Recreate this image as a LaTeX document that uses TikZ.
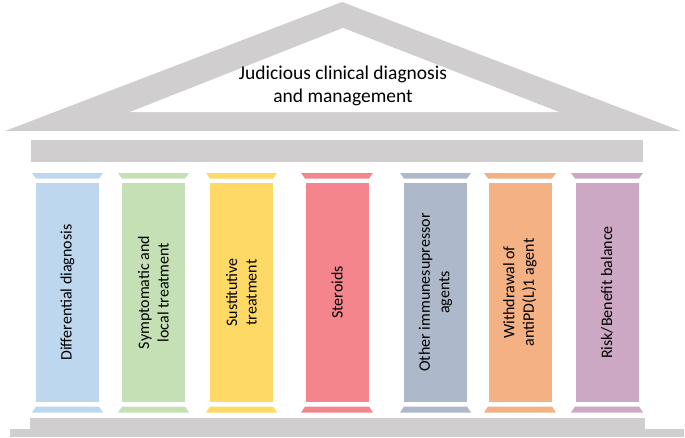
\documentclass[tikz,border=0pt]{standalone}
\usepackage{fontspec}
\setmainfont{Carlito}
\definecolor{roofgray}{HTML}{D0CECE}
\definecolor{cblue}{HTML}{BDD7EE}
\definecolor{cgreen}{HTML}{C5E0B4}
\definecolor{cyellow}{HTML}{FFD966}
\definecolor{cred}{HTML}{F4858D}
\definecolor{cslate}{HTML}{ADB9CA}
\definecolor{corange}{HTML}{F4B183}
\definecolor{cpurple}{HTML}{CDA8C4}
\tikzset{
  rooftext/.style={align=center, text=black, font=\fontsize{19.5}{23}\selectfont, inner sep=0pt},
  pillar/.style={rotate=90, align=center, text=black, inner sep=0pt, minimum width=219pt, minimum height=63pt, font=\fontsize{16}{19.5}\selectfont},
  stone/.style={fill=roofgray, draw=none}
}
\newcommand\mypillar[5]{% name, left x, right x, colour, text
  \fill[#4] (#2-4,173) -- (#3+4,173) -- (#3,178.5) -- (#2,178.5) -- cycle;
  \fill[#4] (#2,406.5) -- (#3,406.5) -- (#3+4,412.5) -- (#2-4,412.5) -- cycle;
  \node[pillar, fill=#4] (#1) at ({(#2+#3)/2},292.5) {#5};
}
\begin{document}
\begin{tikzpicture}[x=1pt,y=-1pt]
\useasboundingbox (0,0) rectangle (685,437);
\fill[stone] (5,131) -- (342,2) -- (681,131) -- cycle;
\fill[white] (130,112) -- (343,28) -- (559,112) -- cycle;
\node[rooftext] (title) at (343,86) {Judicious clinical diagnosis\\and management};
\fill[stone] (31,140) rectangle (643,162);
\mypillar{p1}{36}{99}{cblue}{Differential diagnosis}
\mypillar{p2}{122}{185}{cgreen}{Symptomatic and\\local treatment}
\mypillar{p3}{210}{273}{cyellow}{Sustitutive\\treatment}
\mypillar{p4}{305}{369}{cred}{Steroids}
\mypillar{p5}{404}{467}{cslate}{Other immunesupressor\\agents}
\mypillar{p6}{488}{552}{corange}{Withdrawal of\\antiPD(L)1 agent}
\mypillar{p7}{575}{639}{cpurple}{Risk/Benefit balance}
\fill[stone] (30,418) rectangle (645,429);
\fill[stone] (10,429) rectangle (684,437);
\end{tikzpicture}
\end{document}
